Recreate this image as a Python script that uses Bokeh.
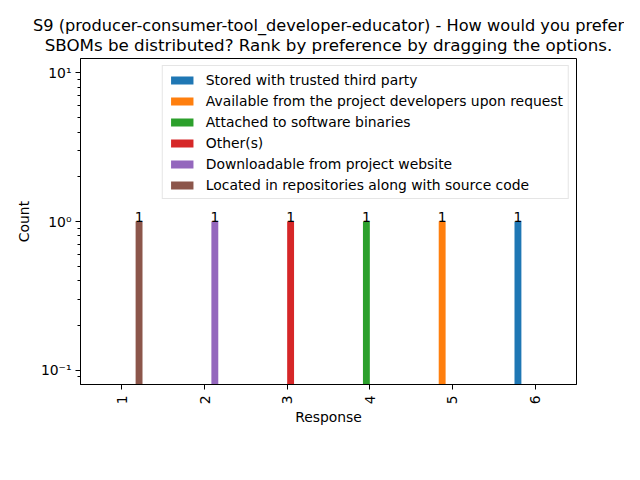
from bokeh.plotting import figure
from bokeh.models import ColumnDataSource, FixedTicker, Range1d, Title, Legend, LegendItem
from bokeh.embed import file_html
from bokeh.resources import INLINE
from bokeh.core.properties import value

# ---- data ----
categories = ["1", "2", "3", "4", "5", "6"]
series_names = [
    "Stored with trusted third party",
    "Available from the project developers upon request",
    "Attached to software binaries",
    "Other(s)",
    "Downloadable from project website",
    "Located in repositories along with source code",
]
stored = [0, 0, 0, 0, 0, 1]
available = [0, 0, 0, 0, 1, 0]
attached = [0, 0, 0, 1, 0, 0]
others = [0, 0, 1, 0, 0, 0]
downloadable = [0, 1, 0, 0, 0, 0]
located = [1, 0, 0, 0, 0, 0]
series_values = [stored, available, attached, others, downloadable, located]
colors = ["#1f77b4", "#ff7f0e", "#2ca02c", "#d62728", "#9467bd", "#8c564b"]
y_tick_values = [0.1, 1, 10]
y_tick_labels = ["10\u207b\u00b9", "10\u2070", "10\u00b9"]

FONT = "DejaVu Sans"
FS = "13.9px"

p = figure(width=624, height=464, y_axis_type="log",
           x_range=Range1d(-0.5, len(categories) - 0.5),
           y_range=Range1d(0.08, 12.5),
           output_backend="svg", toolbar_location=None,
           min_border_left=80, min_border_right=48,
           min_border_top=58, min_border_bottom=80)

n = len(series_names)
bar_w = 0.5 / n
legend_items = []
for j, (name, vals, col) in enumerate(zip(series_names, series_values, colors)):
    off = -0.25 + bar_w * (j + 0.5)
    xs = [i + off for i, v in enumerate(vals) if v > 0]
    ys = [v for v in vals if v > 0]
    src = ColumnDataSource(dict(x=xs, top=ys, bottom=[0.001] * len(ys),
                                label=[str(v) for v in ys]))
    r = p.vbar(x="x", top="top", bottom="bottom", width=bar_w, source=src,
               fill_color=col, line_color=None)
    legend_items.append(LegendItem(label=name, renderers=[r]))
    p.text(x="x", y="top", text="label", source=src, text_align="center",
           text_baseline="bottom", text_font=value(FONT), text_font_size=FS,
           text_color="black")

legend = Legend(items=legend_items, location="top_right",
                label_text_font=FONT, label_text_font_size=FS,
                label_text_color="black",
                glyph_width=28, glyph_height=10, label_height=17,
                spacing=4, padding=5, margin=7, label_standoff=10,
                border_line_color="#cccccc", border_line_width=1,
                background_fill_alpha=0.8)
p.add_layout(legend, "center")

# titles
p.add_layout(Title(text="SBOMs be distributed? Rank by preference by dragging the options.",
                   align="center", text_font=FONT, text_font_size="16.7px",
                   text_font_style="normal", text_color="black", standoff=8), "above")
p.add_layout(Title(text="S9 (producer-consumer-tool_developer-educator) - How would you prefer",
                   align="center", text_font=FONT, text_font_size="16.2px",
                   text_font_style="normal", text_color="black", standoff=-13,
                   offset=-8), "above")

p.xgrid.visible = False
p.ygrid.visible = False
p.outline_line_color = "black"
p.outline_line_width = 1

xa = p.xaxis[0]
xa.ticker = FixedTicker(ticks=list(range(len(categories))))
xa.major_label_overrides = {i: c for i, c in enumerate(categories)}
xa.major_label_orientation = 1.5707963
xa.axis_label = "Response"

ya = p.yaxis[0]
ya.ticker = FixedTicker(ticks=y_tick_values,
                        minor_ticks=[0.09, 0.2, 0.3, 0.4, 0.5, 0.6, 0.7, 0.8, 0.9,
                                     2, 3, 4, 5, 6, 7, 8, 9])
ya.major_label_overrides = {v: l for v, l in zip(y_tick_values, y_tick_labels)}
ya.axis_label = "Count"

for ax in (xa, ya):
    ax.axis_label_text_font = FONT
    ax.axis_label_text_font_size = FS
    ax.axis_label_text_font_style = "normal"
    ax.axis_label_text_color = "black"
    ax.major_label_text_font = FONT
    ax.major_label_text_font_size = FS
    ax.major_label_text_color = "black"
    ax.axis_line_color = "black"
    ax.major_tick_line_color = "black"
    ax.minor_tick_line_color = "black"
    ax.major_tick_in = 0
    ax.major_tick_out = 5
    ax.minor_tick_in = 0
    ax.minor_tick_out = 3
    ax.major_label_standoff = 4
    ax.axis_label_standoff = 6
xa.minor_tick_line_color = None
xa.axis_label_standoff = 2
xa.major_label_standoff = 6

open("out.html", "w").write(file_html(p, INLINE))
